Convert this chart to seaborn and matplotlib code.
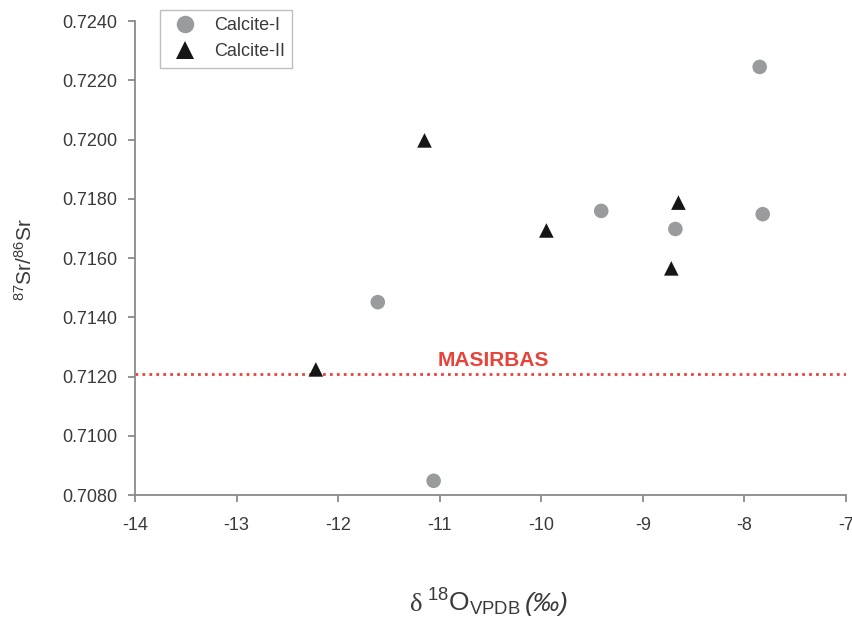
import matplotlib
matplotlib.use("Agg")
import matplotlib.pyplot as plt
from matplotlib.offsetbox import AnchoredOffsetbox, HPacker, TextArea
import seaborn as sns
import pandas as pd

# Calcite-I measurements: delta 18O (VPDB, permil) and 87Sr/86Sr
calcite1_d18o = [-7.85, -9.41, -8.68, -7.82, -11.61, -11.06]
calcite1_sr = [0.72245, 0.71759, 0.71698, 0.71748, 0.71451, 0.70848]

# Calcite-II measurements
calcite2_d18o = [-11.15, -9.95, -8.65, -8.72, -12.22]
calcite2_sr = [0.71997, 0.71693, 0.71787, 0.71565, 0.71224]

phase_names = ["Calcite-I", "Calcite-II"]
masirbas_label = "MASIRBAS"
masirbas_sr = 0.7121

x_ticks = [-14, -13, -12, -11, -10, -9, -8, -7]
y_ticks = [0.7080, 0.7100, 0.7120, 0.7140, 0.7160, 0.7180, 0.7200, 0.7220, 0.7240]

df = pd.DataFrame({
    "d18O": calcite1_d18o + calcite2_d18o,
    "Sr": calcite1_sr + calcite2_sr,
    "phase": [phase_names[0]] * len(calcite1_d18o) + [phase_names[1]] * len(calcite2_d18o),
})

sns.set_style("ticks")
plt.rcParams["font.family"] = ["Liberation Sans", "DejaVu Sans"]
plt.rcParams["mathtext.fontset"] = "custom"
plt.rcParams["mathtext.rm"] = "Liberation Sans"
plt.rcParams["mathtext.it"] = "Liberation Sans:italic"

axis_grey = "#8a8a8a"
text_grey = "#3a3a3a"
red = "#e5443a"

fig = plt.figure(figsize=(8.53, 6.18), dpi=100)
ax = fig.add_axes([0.1583, 0.199, 0.8335, 0.767])

sns.scatterplot(
    data=df, x="d18O", y="Sr", hue="phase", style="phase",
    hue_order=phase_names, style_order=phase_names,
    palette={phase_names[0]: "#9a9b9d", phase_names[1]: "#161616"},
    markers={phase_names[0]: "o", phase_names[1]: "^"},
    s=110, linewidth=0, edgecolor="none", ax=ax, zorder=3,
)

# Reference level of the Masirbas strontium signature
ax.axhline(masirbas_sr, color=red, linestyle=(0, (1, 1.5)), linewidth=2.0, zorder=2)
ax.text(-10.47, masirbas_sr + 0.00012, masirbas_label, color=red, fontsize=15,
        fontweight="bold", ha="center", va="bottom")

ax.set_xlim(-14, -7)
ax.set_ylim(0.7080, 0.7240)
ax.set_xticks(x_ticks)
ax.set_yticks(y_ticks)
ax.set_xticklabels([f"{v:d}" for v in x_ticks])
ax.set_yticklabels([f"{v:.4f}" for v in y_ticks])

sns.despine(ax=ax)
for side in ("left", "bottom"):
    ax.spines[side].set_color(axis_grey)
    ax.spines[side].set_linewidth(1.3)
ax.tick_params(axis="both", colors=axis_grey, labelcolor=text_grey, labelsize=13,
               length=5, width=1.3, direction="out")
ax.tick_params(axis="x", pad=11)
ax.tick_params(axis="y", pad=8)

# x-axis title: serif delta, isotope symbol with subscript, italic permil unit
label_parts = [
    TextArea("δ", textprops=dict(family="Liberation Serif", size=19, color=text_grey)),
    TextArea(r"$^{18}$O$_{\mathrm{VPDB}}$", textprops=dict(size=19, color=text_grey)),
    TextArea("(‰)", textprops=dict(size=19, style="italic", color=text_grey)),
]
xlabel_box = HPacker(children=label_parts, align="baseline", pad=0, sep=3)
anchored = AnchoredOffsetbox(loc="center", child=xlabel_box, pad=0, borderpad=0,
                             frameon=False, bbox_to_anchor=(0.498, -0.226),
                             bbox_transform=ax.transAxes)
ax.add_artist(anchored)

ax.set_xlabel("")
ax.set_ylabel(r"$^{87}$Sr/$^{86}$Sr", fontsize=15, color=text_grey)
ax.yaxis.label.set_va("center")
ax.yaxis.set_label_coords(-0.155, 0.497)

sns.move_legend(
    ax, loc="upper left", bbox_to_anchor=(0.035, 1.023), title=None,
    frameon=True, fancybox=False, fontsize=13, markerscale=1.2,
    borderpad=0.4, labelspacing=0.5, handletextpad=0.6, borderaxespad=0,
)
leg = ax.get_legend()
leg.get_frame().set_edgecolor("#b0b0b0")
leg.get_frame().set_linewidth(1.0)
for t in leg.get_texts():
    t.set_color(text_grey)

fig.savefig("out.png", dpi=100)
